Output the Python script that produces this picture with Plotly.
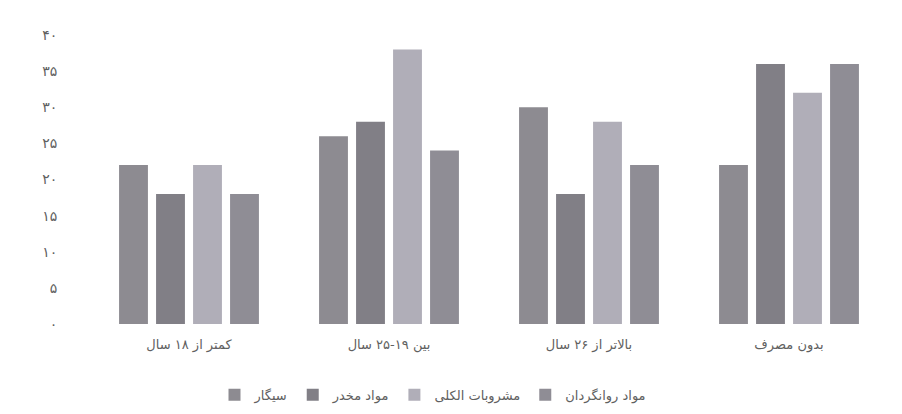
import plotly.graph_objects as go

categories = ["کمتر از ۱۸ سال", "بین ۱۹-۲۵ سال", "بالاتر از ۲۶ سال", "بدون مصرف"]
series_names = ["سیگار", "مواد مخدر", "مشروبات الکلی", "مواد روانگردان"]
cigarette = [22, 26, 30, 22]
narcotics = [18, 28, 18, 36]
alcohol = [22, 38, 28, 32]
psychoactive = [18, 24, 22, 36]
tick_values = [0, 5, 10, 15, 20, 25, 30, 35, 40]
tick_labels = ["۰", "۵", "۱۰", "۱۵", "۲۰", "۲۵", "۳۰", "۳۵", "۴۰"]

colors = ["#8d8b91", "#817f86", "#b0aeb8", "#8f8d95"]
series_values = [cigarette, narcotics, alcohol, psychoactive]

fig = go.Figure()
for name, vals, col in zip(series_names, series_values, colors):
    fig.add_trace(go.Bar(x=categories, y=vals, name=name, marker=dict(color=col, line=dict(width=0))))

fig.update_layout(
    width=902, height=414,
    margin=dict(l=81, r=21, t=27, b=89),
    paper_bgcolor="white", plot_bgcolor="white",
    barmode="group", bargap=0.26, bargroupgap=0.22,
    font=dict(family="DejaVu Sans, Arial", size=12, color="#606060"),
    showlegend=True,
    legend=dict(orientation="h", x=0.43, xanchor="center", y=-0.245, yanchor="middle",
                font=dict(size=13, color="#606060"), itemwidth=30, traceorder="normal"),
)
fig.update_xaxes(showgrid=False, showline=False, zeroline=False, ticks="outside",
                 ticklen=8, tickcolor="rgba(0,0,0,0)", tickfont=dict(size=13, color="#606060"))
fig.update_yaxes(range=[0, 40], tickvals=tick_values, ticktext=tick_labels, showgrid=False,
                 showline=False, zeroline=False, ticks="outside", ticklen=28,
                 tickcolor="rgba(0,0,0,0)", tickfont=dict(size=14, color="#606060"))

fig.write_html("out.html")
